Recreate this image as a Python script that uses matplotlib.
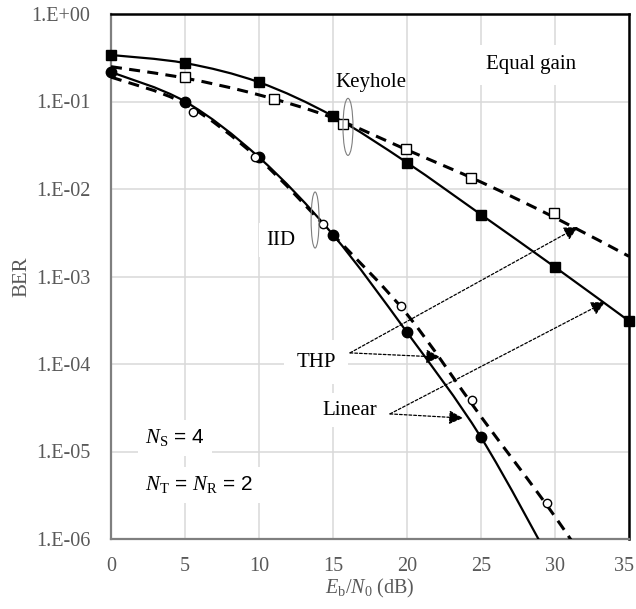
import numpy as np
import matplotlib
matplotlib.use("Agg")
import matplotlib.pyplot as plt
from matplotlib.path import Path
from matplotlib.patches import PathPatch, Ellipse
from matplotlib.ticker import FixedLocator, FuncFormatter
from matplotlib.transforms import ScaledTranslation

plt.rcParams["mathtext.fontset"] = "custom"
plt.rcParams["mathtext.rm"] = "Liberation Serif"
plt.rcParams["mathtext.it"] = "Liberation Serif:italic"
plt.rcParams["font.family"] = ["Liberation Serif", "DejaVu Serif"]

# ---- analytic curves (Eb/N0 in dB, BER) ----
snr_nodes = [0, 5, 10, 15, 20, 25, 30, 35]
keyhole_linear_curve = [0.34, 0.275, 0.166, 0.068, 0.020, 0.0051, 0.00128, 0.00031]
keyhole_thp_curve = [0.25, 0.185, 0.119, 0.065, 0.028, 0.012, 0.0047, 0.0017]
iid_linear_nodes = [0, 5, 10, 15, 20, 25, 30]
iid_linear_curve = [0.217, 0.1, 0.023, 0.003, 2.3e-4, 1.45e-5, 4.5e-7]
iid_thp_curve = [0.19, 0.094, 0.022, 0.003, 3.7e-4, 2.5e-5, 1.8e-6, 1.0e-7]

# ---- simulated points ----
keyhole_linear_sim_x = [0, 5, 10, 15, 20, 25, 30, 35]
keyhole_linear_sim = [0.34, 0.275, 0.166, 0.068, 0.020, 0.0051, 0.00128, 0.00031]
keyhole_thp_sim_x = [5.0, 11.0, 15.7, 19.9, 24.3, 29.9]
keyhole_thp_sim = [0.19, 0.107, 0.055, 0.029, 0.0134, 0.0053]
iid_linear_sim_x = [0, 5, 10, 15, 20, 25]
iid_linear_sim = [0.217, 0.1, 0.023, 0.003, 2.3e-4, 1.45e-5]
iid_thp_sim_x = [5.55, 9.7, 14.35, 19.6, 24.4, 29.45]
iid_thp_sim = [0.076, 0.023, 0.004, 4.6e-4, 3.9e-5, 2.6e-6]

x_ticks = [0, 5, 10, 15, 20, 25, 30, 35]
y_ticks = [1e0, 1e-1, 1e-2, 1e-3, 1e-4, 1e-5, 1e-6]
y_tick_labels = ["1.E+00", "1.E-01", "1.E-02", "1.E-03", "1.E-04", "1.E-05", "1.E-06"]

GRAY_TXT = "#595959"


def smooth_path(x, y):
    """Smoothed line through the nodes (cubic Bezier in x / log10(y) space)."""
    pts = np.column_stack([np.asarray(x, float), np.log10(np.asarray(y, float))])
    n = len(pts)
    verts = [pts[0]]
    codes = [Path.MOVETO]
    for i in range(n - 1):
        p0 = pts[i - 1] if i > 0 else pts[i]
        p1 = pts[i]
        p2 = pts[i + 1]
        p3 = pts[i + 2] if i + 2 < n else pts[i + 1]
        c1 = p1 + (p2 - p0) / 6.0
        c2 = p2 - (p3 - p1) / 6.0
        verts += [c1, c2, p2]
        codes += [Path.CURVE4] * 3
    v = np.array(verts)
    v[:, 1] = 10 ** v[:, 1]
    return Path(v, codes)


fig = plt.figure(figsize=(6.36, 6.09), dpi=100)
ax = fig.add_axes([111 / 636, 1 - 539 / 609, 518 / 636, 525 / 609])
ax.set_yscale("log")
ax.set_xlim(0, 35)
ax.set_ylim(1e-6, 1e0)

ax.xaxis.set_major_locator(FixedLocator(x_ticks))
ax.yaxis.set_major_locator(FixedLocator(y_ticks))
ax.yaxis.set_minor_locator(FixedLocator([]))
ax.yaxis.set_major_formatter(FuncFormatter(
    lambda v, p: y_tick_labels[int(round(-np.log10(v)))] if v > 0 else ""))
ax.tick_params(axis="both", length=0, labelsize=14.5, labelcolor=GRAY_TXT)
ax.tick_params(axis="y", pad=15)
ax.tick_params(axis="x", pad=13)
ax.grid(True, which="major", color="#d9d9d9", lw=1.1)
ax.set_axisbelow(True)

for side in ("left", "bottom"):
    ax.spines[side].set_color("#7f7f7f")
    ax.spines[side].set_linewidth(1.6)
for side in ("top", "right"):
    ax.spines[side].set_color("black")
    ax.spines[side].set_linewidth(1.8)

ax.set_ylabel("BER", fontsize=15, color=GRAY_TXT, labelpad=0)
ax.set_xlabel(r"$E_{\mathrm{b}}/N_{0}$ (dB)", fontsize=14.5, color=GRAY_TXT, labelpad=1)

# keep the rightmost x tick label inside the figure
last_tick = ax.xaxis.get_major_ticks()[-1]
last_tick.label1.set_transform(last_tick.label1.get_transform()
                               + ScaledTranslation(-5 / 100, 0, fig.dpi_scale_trans))

# curves
solid_kw = dict(fill=False, edgecolor="black", lw=1.6, zorder=3)
dash_kw = dict(fill=False, edgecolor="black", lw=2.2, linestyle=(0, (3.6, 2.4)), zorder=3)
ax.add_patch(PathPatch(smooth_path(snr_nodes, keyhole_linear_curve), **solid_kw))
ax.add_patch(PathPatch(smooth_path(snr_nodes, keyhole_thp_curve), **dash_kw))
ax.add_patch(PathPatch(smooth_path(iid_linear_nodes, iid_linear_curve), **solid_kw))
ax.add_patch(PathPatch(smooth_path(snr_nodes, iid_thp_curve), **dash_kw))

# markers
ax.plot(keyhole_linear_sim_x, keyhole_linear_sim, ls="none", marker="s", ms=7.8,
        mfc="black", mec="black", zorder=4, clip_on=False)
ax.plot(keyhole_thp_sim_x, keyhole_thp_sim, ls="none", marker="s", ms=6.8,
        mfc="white", mec="black", mew=1.0, zorder=4)
ax.plot(iid_linear_sim_x, iid_linear_sim, ls="none", marker="o", ms=7.5,
        mfc="black", mec="black", zorder=4, clip_on=False)
ax.plot(iid_thp_sim_x, iid_thp_sim, ls="none", marker="o", ms=6.0,
        mfc="white", mec="black", mew=1.0, zorder=4)

# group ellipses
ax.add_patch(Ellipse((0.4575, 0.785), 0.0193, 0.1086, transform=ax.transAxes,
                     fill=False, edgecolor="#7f7f7f", lw=0.8, zorder=5))
ax.add_patch(Ellipse((0.394, 0.6076), 0.0154, 0.1067, transform=ax.transAxes,
                     fill=False, edgecolor="#7f7f7f", lw=0.8, zorder=5))

box = dict(boxstyle="square,pad=0.35", fc="white", ec="none")
txt_kw = dict(transform=ax.transAxes, fontsize=15, color="black", zorder=6)
ax.text(0.502, 0.8686, "Keyhole", ha="center", va="center", **txt_kw)
ax.text(0.811, 0.903, "Equal gain", ha="center", va="center",
        bbox=dict(boxstyle="square,pad=0.5", fc="white", ec="none"), **txt_kw)
ax.text(0.328, 0.5695, "IID", ha="center", va="center", bbox=box, **txt_kw)
ax.text(0.396, 0.337, "THP", ha="center", va="center",
        bbox=dict(boxstyle="square,pad=0.6", fc="white", ec="none"), **txt_kw)
ax.text(0.461, 0.2457, "Linear", ha="center", va="center", bbox=box, **txt_kw)
ax.text(0.0656, 0.1924, r"$N_{\mathrm{S}}$ = 4", ha="left", va="center",
        family=["Liberation Sans", "DejaVu Sans"], bbox=box, **txt_kw)
ax.text(0.0656, 0.103, r"$N_{\mathrm{T}}$ = $N_{\mathrm{R}}$ = 2", ha="left", va="center",
        family=["Liberation Sans", "DejaVu Sans"], bbox=box, **txt_kw)

# leader arrows
arrow_kw = dict(arrowstyle="-|>,head_length=0.6,head_width=0.3", mutation_scale=14,
                color="black", lw=0.9, linestyle=(0, (2.2, 1.6)), shrinkA=0, shrinkB=0)
thp_start = (16.15, 1.34e-4)
linear_start = (18.85, 2.69e-5)
for tip in [(31.55, 3.68e-3), (22.23, 1.2e-4)]:
    ax.annotate("", xy=tip, xytext=thp_start, arrowprops=arrow_kw, zorder=6)
for tip in [(33.38, 5.1e-4), (23.78, 2.41e-5)]:
    ax.annotate("", xy=tip, xytext=linear_start, arrowprops=arrow_kw, zorder=6)

fig.savefig("out.png", dpi=100)
